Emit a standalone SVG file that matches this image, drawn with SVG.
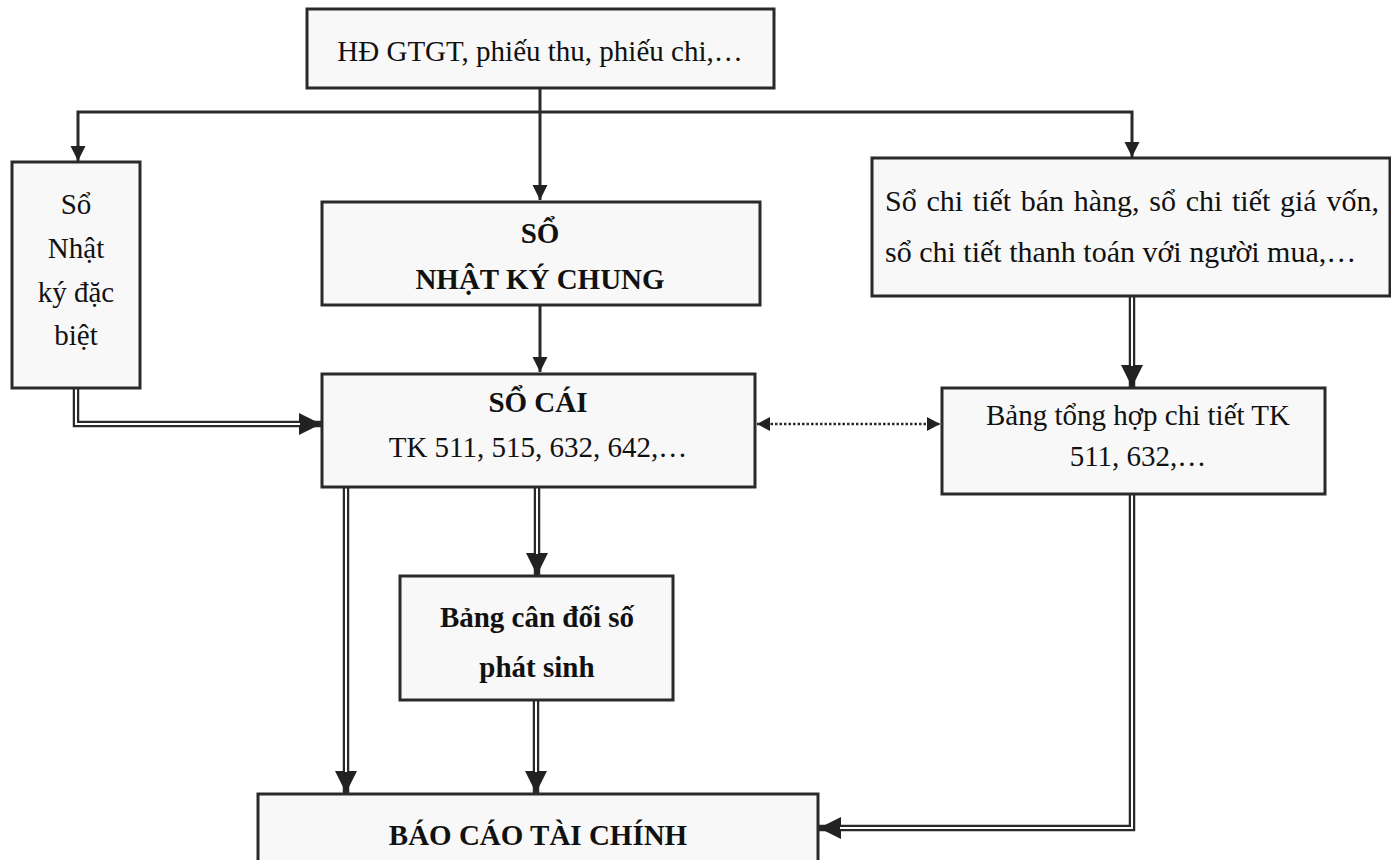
<svg xmlns="http://www.w3.org/2000/svg" width="1391" height="860" viewBox="0 0 1391 860">
<style>
.box{fill:#f8f8f8;stroke:#2a2a2a;stroke-width:3}
.t{font-family:"Liberation Serif","Times New Roman",serif;font-size:29px;fill:#111;text-anchor:middle}
.l{text-anchor:start;font-size:30px}
.b{font-weight:bold}
.single{fill:none;stroke:#2a2a2a;stroke-width:3}
.dotted{fill:none;stroke:#2a2a2a;stroke-width:2.5;stroke-dasharray:2.5 2}
.outer{fill:none;stroke:#2a2a2a;stroke-width:6.5;stroke-linejoin:miter}
.inner{fill:none;stroke:#ffffff;stroke-width:2;stroke-linejoin:miter}
</style>
<defs>
<marker id="a1" markerUnits="userSpaceOnUse" markerWidth="16" markerHeight="16" refX="15" refY="7.5" orient="auto"><path d="M0,0 L15,7.5 L0,15 z" fill="#222"/></marker>
<marker id="a2" markerUnits="userSpaceOnUse" markerWidth="23" markerHeight="23" refX="22" refY="11" orient="auto"><path d="M0,0 L22,11 L0,22 z" fill="#222"/></marker>
<marker id="a3" markerUnits="userSpaceOnUse" markerWidth="14" markerHeight="15" refX="13" refY="7" orient="auto-start-reverse"><path d="M0,0 L13,7 L0,14 z" fill="#222"/></marker>
</defs>
<g id="connectors">
<path class="single" d="M540,88 V200" marker-end="url(#a1)"/>
<path class="single" d="M540,112 H78 V161" marker-end="url(#a1)"/>
<path class="single" d="M540,112 H1132 V157" marker-end="url(#a1)"/>
<path class="single" d="M540,305 V372" marker-end="url(#a1)"/>
<path class="dotted" d="M757,424 H940" marker-start="url(#a3)" marker-end="url(#a3)"/>
<path class="outer" d="M76,388 V424 H321" marker-end="url(#a2)"/>
<path class="inner" d="M76,386 V424 H300"/>
<path class="outer" d="M1132,296 V387" marker-end="url(#a2)"/>
<path class="inner" d="M1132,294 V366"/>
<path class="outer" d="M346,487 V793" marker-end="url(#a2)"/>
<path class="inner" d="M346,485 V772"/>
<path class="outer" d="M537,487 V575" marker-end="url(#a2)"/>
<path class="inner" d="M537,485 V554"/>
<path class="outer" d="M536,700 V793" marker-end="url(#a2)"/>
<path class="inner" d="M536,698 V772"/>
<path class="outer" d="M1132,494 V828 H819" marker-end="url(#a2)"/>
<path class="inner" d="M1132,492 V828 H840"/>
</g>
<g id="n-chungtu">
<rect class="box" x="307" y="9" width="467" height="79"/>
<text class="t" x="540" y="61">HĐ GTGT, phiếu thu, phiếu chi,…</text>
</g>
<g id="n-nkdb">
<rect class="box" x="12" y="162" width="128" height="226"/>
<text class="t" x="76" y="214">Sổ</text>
<text class="t" x="76" y="258">Nhật</text>
<text class="t" x="76" y="302">ký đặc</text>
<text class="t" x="76" y="345">biệt</text>
</g>
<g id="n-nkc">
<rect class="box" x="322" y="202" width="438" height="103"/>
<text class="t b" x="540" y="243">SỔ</text>
<text class="t b" x="540" y="289">NHẬT KÝ CHUNG</text>
</g>
<g id="n-chitiet">
<rect class="box" x="872" y="158" width="518" height="138"/>
<text class="t l" x="885" y="211" word-spacing="2.2">Sổ chi tiết bán hàng, sổ chi tiết giá vốn,</text>
<text class="t l" x="885" y="262">sổ chi tiết thanh toán với người mua,…</text>
</g>
<g id="n-socai">
<rect class="box" x="322" y="374" width="433" height="113"/>
<text class="t b" x="538" y="412">SỔ CÁI</text>
<text class="t" x="538" y="457">TK 511, 515, 632, 642,…</text>
</g>
<g id="n-tonghop">
<rect class="box" x="942" y="388" width="383" height="106"/>
<text class="t" x="1138" y="425">Bảng tổng hợp chi tiết TK</text>
<text class="t" x="1138" y="466">511, 632,…</text>
</g>
<g id="n-cdps">
<rect class="box" x="400" y="576" width="273" height="124"/>
<text class="t b" x="537" y="627">Bảng cân đối số</text>
<text class="t b" x="537" y="677">phát sinh</text>
</g>
<g id="n-bctc">
<rect class="box" x="258" y="794" width="560" height="80"/>
<text class="t b" x="538" y="845">BÁO CÁO TÀI CHÍNH</text>
</g>
</svg>
